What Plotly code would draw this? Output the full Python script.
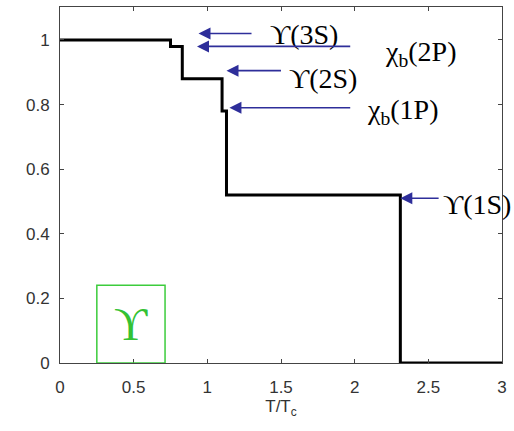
import plotly.graph_objects as go

# Survival probability of bottomonium states versus temperature
t_edges = [0.0, 0.75, 0.83, 1.10, 1.13, 2.31, 3.0]
survival = [1.0, 0.98, 0.88, 0.78, 0.52, 0.0, 0.0]

# State labels: arrow tip (T, value), arrow tail T, label position
states = ["ϒ(3S)", "χ<sub>b</sub>(2P)", "ϒ(2S)", "χ<sub>b</sub>(1P)", "ϒ(1S)"]
tip_t = [0.94, 0.93, 1.13, 1.15, 2.31]
tip_v = [1.02, 0.98, 0.905, 0.79, 0.51]
tail_t = [1.31, 1.98, 1.51, 1.98, 2.58]
label_t = [1.41, 2.19, 1.54, 2.07, 2.585]
label_v = [1.018, 0.958, 0.882, 0.78, 0.49]

x_ticks = [0, 0.5, 1, 1.5, 2, 2.5, 3]
y_ticks = [0, 0.2, 0.4, 0.6, 0.8, 1]

fig = go.Figure()
fig.add_trace(go.Scatter(
    x=t_edges, y=survival, mode="lines",
    line=dict(color="black", width=3, shape="hv"),
    showlegend=False, hoverinfo="skip",
))

serif = "Liberation Serif, Times New Roman, serif"
arrow_col = "#2e2e9a"
for name, xt, yt, xa, lx, ly in zip(states, tip_t, tip_v, tail_t, label_t, label_v):
    fig.add_annotation(
        x=xt, y=yt, ax=xa, ay=yt, xref="x", yref="y", axref="x", ayref="y",
        text="", showarrow=True, arrowhead=2, arrowsize=1.5, arrowwidth=1.6,
        arrowcolor=arrow_col, standoff=0,
    )
    fig.add_annotation(
        x=lx, y=ly, xref="x", yref="y", text=name, showarrow=False,
        xanchor="left", yanchor="middle",
        font=dict(family=serif, size=28, color="black"),
    )

# Green box with the upsilon symbol
fig.add_shape(type="rect", x0=0.25, x1=0.713, y0=0.0, y1=0.241,
              xref="x", yref="y", line=dict(color="#3ccc3c", width=1.5))
fig.add_annotation(x=0.482, y=0.118, xref="x", yref="y", text="ϒ",
                   showarrow=False, font=dict(family=serif, size=46, color="#33c233"))

sans = "Liberation Sans, Arial, sans-serif"
axis_common = dict(
    showline=True, linecolor="#444", linewidth=1, mirror="ticks",
    ticks="inside", ticklen=4, tickcolor="#444", showgrid=False, zeroline=False,
    tickfont=dict(family=sans, size=17, color="#333"),
)
fig.update_xaxes(range=[0, 3], tickvals=x_ticks, ticktext=[f"{v:g}" for v in x_ticks],
                 ticklabelstandoff=9,
                 title=dict(text="T/T<sub>c</sub>", standoff=0,
                            font=dict(family=sans, size=17, color="#333")),
                 **axis_common)
fig.update_yaxes(range=[0, 1.102], tickvals=y_ticks, ticktext=[f"{v:g}" for v in y_ticks],
                 ticklabelstandoff=6,
                 **axis_common)

fig.update_layout(
    width=514, height=431, margin=dict(l=60, r=12, t=7, b=68),
    plot_bgcolor="white", paper_bgcolor="white",
)
fig.write_html("out.html")
